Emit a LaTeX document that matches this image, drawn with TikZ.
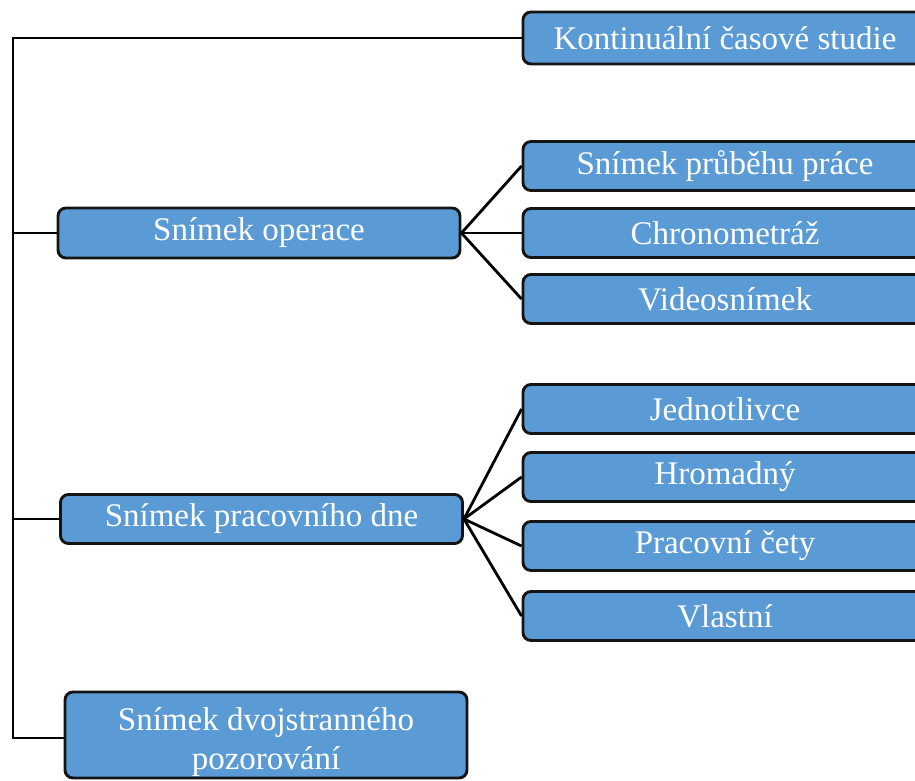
\documentclass[tikz,border=0pt]{standalone}
\usepackage{fontspec}
\setmainfont{Liberation Serif}
\definecolor{boxblue}{HTML}{5B9BD5}
\definecolor{boxedge}{HTML}{141414}
\tikzset{
  item/.style={draw=boxedge, line width=2.9pt, fill=boxblue, rounded corners=8pt,
    text=white, align=center, inner sep=0pt, minimum width=402pt, minimum height=49pt,
    font=\fontsize{33}{38}\selectfont},
  wire/.style={draw=black, line width=2.8pt}
}
\begin{document}
\begin{tikzpicture}[x=1pt, y=-1pt]
\clip (0,0) rectangle (915,780);
% right-hand column
\node[item, minimum width=404pt, minimum height=52pt] (k) at (725,38) {Kontinuální časové studie};
\node[item, minimum width=404pt] (r1) at (725,166) {Snímek průběhu práce};
\node[item, minimum width=404pt] (r2) at (725,233) {Chronometráž};
\node[item, minimum width=404pt] (r3) at (725,299) {Videosnímek};
\node[item, minimum width=404pt] (j) at (725,409) {Jednotlivce};
\node[item, minimum width=404pt] (h) at (725,477) {Hromadný};
\node[item, minimum width=404pt] (p) at (725,546) {Pracovní čety};
\node[item, minimum width=404pt] (v) at (725,616) {Vlastní};
% left-hand column
\node[item, minimum height=50pt] (so) at (259,233) {Snímek operace};
\node[item] (spd) at (261.5,519) {Snímek pracovního dne};
\node[item, minimum height=86pt, minimum width=402pt] (dv) at (266,735)
  {\rule{0pt}{36pt}Snímek dvojstranného\\[1pt]pozorování};
% trunk
\coordinate (top) at (13,38);
\coordinate (bot) at (13,738);
\draw[wire, line join=miter] (k.west) -- (top) -- (bot) -- (bot -| dv.west);
\draw[wire] (so.west -| top) -- (so.west);
\draw[wire] (spd.west -| top) -- (spd.west);
% fans
\foreach \t in {r1,r2,r3} \draw[wire] (so.east) -- (\t.west);
\foreach \t in {j,h,p,v} \draw[wire] (spd.east) -- (\t.west);
\end{tikzpicture}
\end{document}
